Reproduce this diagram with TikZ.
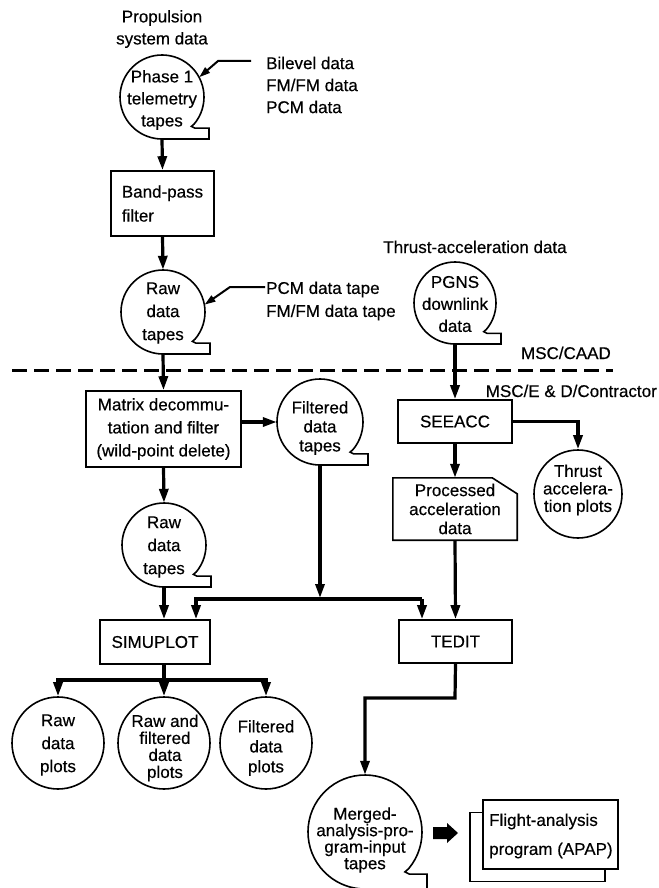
\documentclass[tikz,border=0pt]{standalone}
\usepackage{fontspec}
\setmainfont{Liberation Sans}[FakeBold=0.4]
\usetikzlibrary{arrows.meta,calc}

% text size 17pt with a chosen line spacing
\newcommand\fs[1]{\fontsize{17}{#1}\selectfont}

% outline of a tape reel: circle with the tail at the lower right
% #1 = node holding the reel, #2 = radius (pt, no unit)
\newcommand\tapeline[2]{%
  \draw[shp,shift={(#1.center)}]
    (-40:#2) arc[start angle=-40,end angle=270,radius=#2]
    -- ({#2+5},{-#2}) -- ({#2+5},{-0.74*#2}) -- ({0.78*#2},{-0.74*#2})
    -- ({0.70*#2},{-0.70*#2}) -- cycle;}

\tikzset{
  shp/.style={line width=1.6pt,line join=miter},
  box/.style={draw,line width=1.6pt,rectangle,inner sep=0pt,align=center,font=\fs{22}},
  lbl/.style={inner sep=0pt,align=center,font=\fs{22}},
  tapebody/.style={circle,inner sep=0pt,minimum size=#1},
  plotc/.style={circle,draw,line width=1.6pt,inner sep=0pt,minimum size=#1},
  conn/.style={line width=3.2pt,line join=miter,-{Triangle[length=14pt,width=9pt]}},
  wire/.style={line width=3.2pt},
  callout/.style={line width=2pt,-{Triangle[length=11pt,width=7pt]}},
  divider/.style={line width=3pt,dash pattern=on 15pt off 7pt},
}

\begin{document}
\begin{tikzpicture}[x=1pt,y=1pt]
\fill[white] (0,0) rectangle (658,-888);
\useasboundingbox (0,0) rectangle (658,-888);

% ---------- propulsion system chain ----------
\node[lbl] (hdr1) at (162,-29) {Propulsion\\system data};
\node[lbl,anchor=west,align=left] (src1) at (266,-85) {Bilevel data\\FM/FM data\\PCM data};
\node[tapebody=84pt] (p1) at (162,-97) {};
\node[lbl] (p1t) at (162,-100) {Phase 1\\telemetry\\tapes};
\tapeline{p1}{42}

\node[box,minimum width=103pt,minimum height=65pt,align=left,font=\fs{24}] (bp) at (162.5,-203.5) {Band-pass\\filter};

\node[tapebody=84pt] (rt1) at (163,-312) {};
\node[lbl,font=\fs{23}] (rt1t) at (163,-313) {Raw\\data\\tapes};
\tapeline{rt1}{42}
\node[lbl,anchor=west,align=left,font=\fs{23}] (src2) at (266,-301) {PCM data tape\\FM/FM data tape};

% ---------- thrust-acceleration source ----------
\node[lbl,anchor=base] (hdr2) at (475,-253) {Thrust-acceleration data};
\node[tapebody=82pt] (pg) at (455,-303) {};
\node[lbl] (pgt) at (455,-304) {PGNS\\downlink\\data};
\tapeline{pg}{41}

% ---------- organisational boundary ----------
\coordinate (dl) at (12,-370);
\coordinate (dr) at (613,-370);
\draw[divider] (dl) -- (dr);
\node[lbl,anchor=base east] (caad) at (611,-359) {MSC/CAAD};
\node[lbl,anchor=base east] (ed) at (657,-397) {MSC/E \& D/Contractor};

% ---------- processing ----------
\node[box,minimum width=155pt,minimum height=76pt,font=\fs{23}] (mx) at (163.5,-429) {Matrix decommu-\\tation and filter\\(wild-point delete)};
\node[tapebody=86pt] (ft) at (320,-422) {};
\node[lbl,font=\fs{19}] (ftt) at (320,-428) {Filtered\\data\\tapes};
\tapeline{ft}{43}
\node[tapebody=84pt] (rt2) at (164,-545) {};
\node[lbl,font=\fs{23}] (rt2t) at (164,-547) {Raw\\data\\tapes};
\tapeline{rt2}{42}

\node[box,minimum width=114pt,minimum height=43pt] (se) at (455,-421.5) {SEEACC};
\node[plotc=88pt] (th) at (578,-494) {};
\node[lbl,font=\fs{17.5}] (tht) at (578,-490) {Thrust\\accelera-\\tion plots};
\node[inner sep=0pt,minimum width=124pt,minimum height=62pt,align=center,font=\fs{19}] (pr) at (455,-509) {Processed\\acceleration\\data};
\draw[shp] (pr.south west) -- (pr.north west) -- ([xshift=-25pt]pr.north east)
  -- ([yshift=-16pt]pr.north east) -- (pr.south east) -- cycle;

\node[box,minimum width=110pt,minimum height=44pt] (sp) at (155,-642) {SIMUPLOT};
\node[box,minimum width=113pt,minimum height=43pt] (te) at (455.5,-641.5) {TEDIT};

% ---------- plots ----------
\node[plotc=92pt] (pc1) at (58,-743) {};
\node[lbl,font=\fs{23}] (pc1t) at (58,-745) {Raw\\data\\plots};
\node[plotc=92pt] (pc2) at (164,-743) {};
\node[lbl,font=\fs{17}] (pc2t) at (165,-748) {Raw and\\filtered\\data\\plots};
\node[plotc=92pt] (pc3) at (266,-743) {};
\node[lbl,font=\fs{20}] (pc3t) at (266,-748) {Filtered\\data\\plots};

% ---------- merged tapes and flight analysis ----------
\node[tapebody=114pt] (mt) at (365,-832) {};
\node[lbl,font=\fs{16.5}] (mtt) at (365,-840) {Merged-\\analysis-pro-\\gram-input\\tapes};
\tapeline{mt}{57}
% solid block arrow between the tapes and the program
\coordinate (blk) at (445,-833);
\fill[shift={(blk)}] (-12,6) -- (2,6) -- (2,10) -- (13,0) -- (2,-10) -- (2,-6) -- (-12,-6) -- cycle;
\node[box,minimum width=135pt,minimum height=69pt,fill=white] (fa2) at (537.5,-847) {};
\node[box,minimum width=135pt,minimum height=69pt,fill=white] (fa) at (550.5,-834.5) {};
\node[lbl,anchor=west,align=left,font=\fs{29}] (fat) at (489,-836) {Flight-analysis\\program (APAP)};

% ---------- connectors ----------
\coordinate (c1) at (251,-61);
\draw[callout] (c1) -- ++(-33,0) -- (p1.28);
\coordinate (c2) at (265,-287);
\draw[callout] (c2) -- ++(-35,0) -- (rt1.10);

\draw[conn] (p1.south) -- (bp.north);
\draw[conn] (bp.south) -- (rt1.north);
\draw[conn] (rt1.south) -- (mx.north);
\draw[conn] (mx.east|-ft.west) -- (ft.west);
\draw[conn] (mx.south) -- (rt2.north);
\draw[conn] (rt2.south) -- (rt2.south|-sp.north);

\coordinate (jl) at (196,-599);
\coordinate (jr) at (422,-599);
\draw[conn] (ft.south) -- ([yshift=1pt]ft.south|-jl);
\draw[conn] (jr) -- (jl) -- (jl|-sp.north);
\draw[conn] (jr) -- (jr|-te.north);

\coordinate (sb) at (164,-680);
\draw[wire] (sb|-sp.south) -- (sb);
\draw[conn] (sb) -| (pc1.north);
\draw[conn] (sb) -| (pc3.north);
\draw[conn] (sb) -- (pc2.north);

\draw[conn] (pg.south) -- (se.north);
\draw[conn] (se.east) -- (se.east-|th.north) -- (th.north);
\draw[conn] (se.south) -- (pr.north);
\draw[conn] (pr.south) -- (te.north);
\coordinate (tb) at (455,-698);
\draw[conn] (te.south) -- (tb) -| (mt.north);
\end{tikzpicture}
\end{document}
